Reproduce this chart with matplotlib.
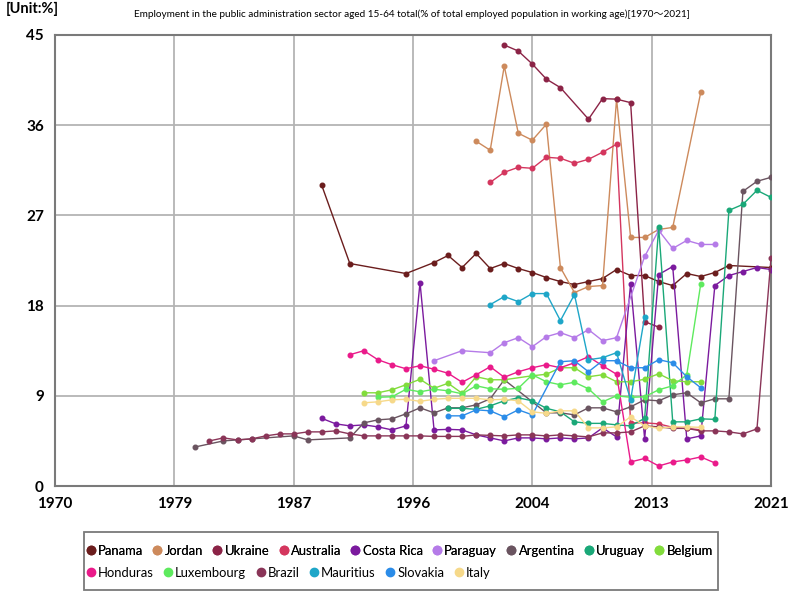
import matplotlib
matplotlib.use("Agg")
import matplotlib.pyplot as plt
from matplotlib.patches import Rectangle
from matplotlib.lines import Line2D

plt.rcParams['font.family'] = ['Lato', 'Noto Sans CJK JP', 'DejaVu Sans']

title = "Employment in the public administration sector aged 15-64 total(% of total employed population in working age)[1970～2021]"
unit_label = "[Unit:%]"

countries = ["Panama", "Jordan", "Ukraine", "Australia", "Costa Rica", "Paraguay", "Argentina",
             "Uruguay", "Belgium", "Honduras", "Luxembourg", "Brazil", "Mauritius", "Slovakia", "Italy"]
colors = ["#6b1d1d", "#cd8a5c", "#8b2346", "#d4365e", "#7b1a9e", "#b57be8", "#6a5460",
          "#1aa878", "#82dc3c", "#ea1a8a", "#5eea5e", "#8a3558", "#1ea6c8", "#2b8ce8", "#f6d98a"]

panama = [(1989, 30.0), (1991, 22.2), (1995, 21.2), (1997, 22.3), (1998, 23.0), (1999, 21.8), (2000, 23.2),
          (2001, 21.7), (2002, 22.2), (2003, 21.7), (2004, 21.3), (2005, 20.8), (2006, 20.4), (2007, 20.1),
          (2008, 20.4), (2009, 20.7), (2010, 21.6), (2011, 21.0), (2012, 21.0), (2013, 20.4), (2014, 20.0),
          (2015, 21.2), (2016, 20.9), (2017, 21.3), (2018, 22.0), (2021, 21.8)]
jordan = [(2000, 34.4), (2001, 33.5), (2002, 41.9), (2003, 35.2), (2004, 34.5), (2005, 36.1), (2006, 21.8),
          (2007, 19.3), (2008, 19.9), (2009, 20.0), (2010, 38.6), (2011, 24.8), (2012, 24.8), (2013, 25.6),
          (2014, 25.8), (2016, 39.3)]
ukraine = [(2002, 44.0), (2003, 43.4), (2004, 42.1), (2005, 40.6), (2006, 39.75), (2008, 36.6), (2009, 38.65),
           (2010, 38.6), (2011, 38.25), (2012, 16.4), (2013, 15.85)]
australia = [(2001, 30.3), (2002, 31.3), (2003, 31.8), (2004, 31.7), (2005, 32.8), (2006, 32.7), (2007, 32.2),
             (2008, 32.6), (2009, 33.3), (2010, 34.1), (2011, 6.3), (2012, 6.3), (2013, 6.2), (2014, 5.85),
             (2015, 5.75), (2016, 5.6)]
costa_rica = [(1989, 6.75), (1990, 6.2), (1991, 6.0), (1992, 6.1), (1993, 5.9), (1994, 5.6), (1995, 6.0),
              (1996, 20.3), (1997, 5.6), (1998, 5.65), (1999, 5.6), (2000, 5.1), (2001, 4.8), (2002, 4.5),
              (2003, 4.8), (2004, 4.8), (2005, 4.7), (2006, 4.8), (2007, 4.7), (2008, 4.8), (2009, 5.8),
              (2010, 4.9), (2011, 20.2), (2012, 4.7), (2013, 21.1), (2014, 21.9), (2015, 4.7), (2016, 5.0),
              (2017, 20.0), (2018, 21.0), (2019, 21.4), (2020, 21.8), (2021, 21.6)]
paraguay = [(1997, 12.5), (1999, 13.5), (2001, 13.3), (2002, 14.3), (2003, 14.8), (2004, 13.9), (2005, 14.9),
            (2006, 15.3), (2007, 14.8), (2008, 15.6), (2009, 14.5), (2010, 14.8), (2012, 22.9), (2013, 25.5),
            (2014, 23.7), (2015, 24.5), (2016, 24.1), (2017, 24.1)]
argentina = [(1980, 3.9), (1982, 4.5), (1983, 4.6), (1984, 4.7), (1987, 5.0), (1988, 4.6), (1991, 4.8),
             (1992, 6.3), (1993, 6.6), (1994, 6.7), (1995, 7.2), (1996, 7.8), (1997, 7.3), (1998, 7.8),
             (1999, 7.8), (2000, 8.1), (2001, 8.7), (2002, 10.6), (2005, 7.3), (2006, 7.3), (2007, 7.1),
             (2008, 7.8), (2009, 7.8), (2010, 7.4), (2011, 7.9), (2012, 8.6), (2013, 8.5), (2014, 9.1),
             (2015, 9.3), (2016, 8.3), (2017, 8.7), (2018, 8.7), (2019, 29.4), (2020, 30.4), (2021, 30.8)]
uruguay = [(1998, 7.75), (1999, 7.75), (2000, 7.65), (2001, 8.0), (2002, 8.5), (2003, 8.8), (2004, 8.5),
           (2005, 7.75), (2006, 7.4), (2007, 6.4), (2008, 6.25), (2009, 6.25), (2010, 6.1), (2011, 6.0),
           (2012, 6.75), (2013, 25.8), (2014, 6.4), (2015, 6.4), (2016, 6.7), (2017, 6.65), (2018, 27.5),
           (2019, 28.1), (2020, 29.5), (2021, 28.8)]
belgium = [(1992, 9.3), (1993, 9.3), (1994, 9.6), (1995, 10.1), (1996, 10.65), (1997, 9.75), (1998, 10.25),
           (1999, 9.25), (2000, 10.9), (2001, 10.6), (2002, 10.6), (2004, 11.0), (2005, 11.15), (2006, 11.8),
           (2007, 11.8), (2008, 10.9), (2009, 11.1), (2010, 10.4), (2011, 10.4), (2012, 10.65), (2013, 11.2),
           (2014, 10.5), (2015, 10.4), (2016, 10.4)]
honduras = [(1991, 13.1), (1992, 13.5), (1993, 12.6), (1994, 12.1), (1995, 11.7), (1996, 12.0), (1997, 11.65),
            (1998, 11.25), (1999, 10.35), (2000, 11.1), (2001, 11.9), (2002, 10.85), (2003, 11.4), (2004, 11.8),
            (2005, 12.1), (2006, 11.8), (2007, 12.3), (2008, 12.9), (2009, 12.0), (2010, 11.15), (2011, 2.4),
            (2012, 2.75), (2013, 2.0), (2014, 2.4), (2015, 2.6), (2016, 2.9), (2017, 2.3)]
luxembourg = [(1993, 8.85), (1994, 8.9), (1995, 9.65), (1996, 9.4), (1997, 9.65), (1998, 9.5), (1999, 9.2),
              (2000, 10.0), (2001, 9.7), (2002, 9.65), (2003, 9.75), (2004, 11.1), (2005, 10.4), (2006, 10.1),
              (2007, 10.35), (2008, 9.7), (2009, 8.4), (2010, 9.0), (2011, 8.85), (2012, 8.9), (2013, 9.6),
              (2014, 10.0), (2015, 11.1), (2016, 20.2)]
brazil = [(1981, 4.5), (1982, 4.8), (1983, 4.6), (1984, 4.7), (1985, 5.0), (1986, 5.2), (1987, 5.2), (1988, 5.4),
          (1989, 5.4), (1990, 5.5), (1991, 5.2), (1992, 5.0), (1993, 5.0), (1994, 5.0), (1995, 5.0), (1996, 5.0),
          (1997, 4.95), (1998, 4.95), (1999, 4.95), (2000, 5.1), (2001, 5.05), (2002, 5.0), (2003, 5.1),
          (2004, 5.1), (2005, 5.0), (2006, 5.1), (2007, 5.0), (2008, 4.9), (2009, 5.3), (2010, 5.3), (2011, 5.4),
          (2012, 6.0), (2013, 5.9), (2014, 5.75), (2015, 5.75), (2016, 5.5), (2017, 5.5), (2018, 5.4),
          (2019, 5.2), (2020, 5.7), (2021, 22.7)]
mauritius = [(2001, 18.1), (2002, 18.9), (2003, 18.4), (2004, 19.2), (2005, 19.2), (2006, 16.5), (2007, 19.1),
             (2008, 12.6), (2009, 12.8), (2010, 13.3), (2011, 8.6), (2012, 16.9)]
slovakia = [(1998, 7.0), (1999, 7.0), (2000, 7.6), (2001, 7.5), (2002, 6.9), (2003, 7.6), (2004, 7.1),
            (2006, 12.4), (2007, 12.5), (2008, 11.4), (2009, 12.5), (2010, 12.5), (2011, 11.8), (2012, 11.8),
            (2013, 12.6), (2014, 12.3), (2015, 10.9), (2016, 9.8)]
italy = [(1992, 8.3), (1993, 8.4), (1994, 8.6), (1995, 8.65), (1996, 8.45), (1997, 8.65), (1998, 8.75),
         (1999, 8.75), (2000, 8.75), (2001, 8.6), (2002, 8.65), (2003, 8.5), (2004, 7.4), (2005, 7.25),
         (2006, 7.5), (2007, 7.5), (2008, 5.8), (2009, 5.8), (2010, 5.9), (2011, 6.9), (2012, 6.0),
         (2013, 5.75), (2014, 5.9), (2015, 5.9), (2016, 5.85)]

series = [panama, jordan, ukraine, australia, costa_rica, paraguay, argentina, uruguay, belgium,
          honduras, luxembourg, brazil, mauritius, slovakia, italy]

x_ticks = [1970 + 8.5 * i for i in range(7)]
x_tick_labels = ["1970", "1979", "1987", "1996", "2004", "2013", "2021"]
y_ticks = [0, 9, 18, 27, 36, 45]

fig = plt.figure(figsize=(8, 6), dpi=100)
ax = fig.add_axes([55 / 800, 1 - 486 / 600, (771 - 55) / 800, (486 - 35) / 600])

for name, col, data in zip(countries, colors, series):
    xs = [d[0] for d in data]
    ys = [d[1] for d in data]
    ax.plot(xs, ys, color=col, lw=1.0, marker='o', ms=3.3, mec=col, mfc=col, label=name, zorder=3)

ax.set_xlim(1970, 2021)
ax.set_ylim(0, 45)
ax.set_xticks(x_ticks)
ax.set_xticklabels(x_tick_labels, fontsize=11, fontweight='bold')
ax.set_yticks(y_ticks)
ax.set_yticklabels([str(v) for v in y_ticks], fontsize=11, fontweight='bold')
ax.tick_params(axis='both', length=0, pad=8)
ax.grid(True, color='#b4b4b4', lw=1.3)
ax.set_axisbelow(True)
for s in ax.spines.values():
    s.set_color('#7a7a7a')
    s.set_linewidth(1.5)

fig.text(412 / 800, 1 - 14 / 600, title, ha='center', va='center', fontsize=7.2)
fig.text(6 / 800, 1 - 2 / 600, unit_label, ha='left', va='top', fontsize=10.5, fontweight='bold')

# legend box
fig.add_artist(Rectangle((84 / 800, 1 - 590 / 600), (718 - 84) / 800, (590 - 532) / 600,
                         transform=fig.transFigure, fill=False, edgecolor='#7a7a7a', lw=1.3))

def handle(c):
    return Line2D([], [], ls='none', marker='o', ms=6.0, mfc=c, mec=c)

row1 = list(range(9))
row2 = list(range(9, 15))
leg_kw = dict(frameon=False, fontsize=9.4, handlelength=0.6, handletextpad=0.25,
              columnspacing=0.8, borderpad=0.2, borderaxespad=0.0)
leg1 = fig.legend([handle(colors[i]) for i in row1], [countries[i] for i in row1], ncol=9,
                  loc='center left', bbox_to_anchor=(84 / 800, 1 - 551 / 600), **leg_kw)
fig.add_artist(leg1)
leg2 = fig.legend([handle(colors[i]) for i in row2], [countries[i] for i in row2], ncol=6,
                  loc='center left', bbox_to_anchor=(84 / 800, 1 - 573 / 600), **leg_kw)

fig.savefig("out.png", dpi=100)
